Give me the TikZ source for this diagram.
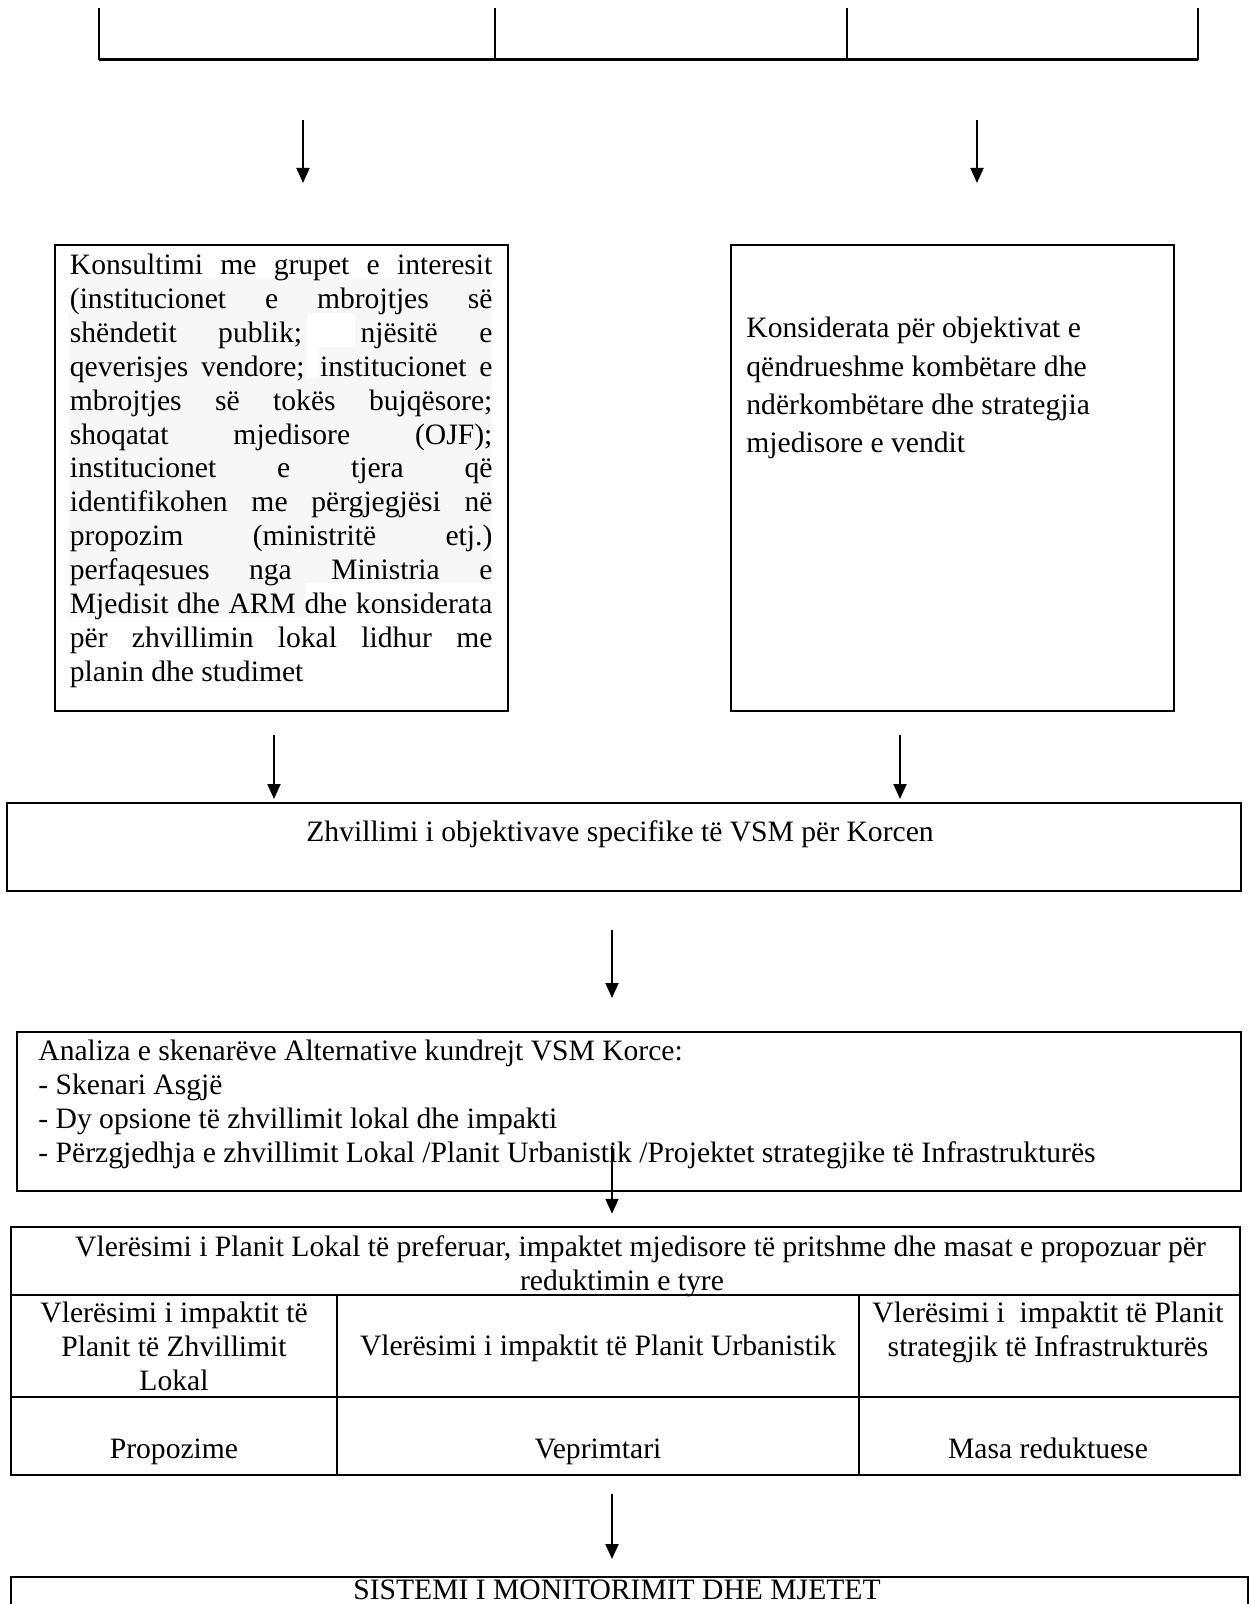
\documentclass[tikz,border=0pt]{standalone}
\usepackage{fontspec}
\setmainfont{Liberation Serif}
\usetikzlibrary{arrows.meta}
\usetikzlibrary{fit}

\tikzset{
  box/.style={draw,line width=1pt,inner sep=0pt},
  cell/.style={draw,line width=1.2pt,inner sep=0pt},
  arr/.style={line width=1pt,-{Triangle[length=7.5pt,width=6.5pt]}},
  txt/.style={inner sep=0pt,font=\fontsize{14.8}{16.95}\selectfont}
}

\begin{document}
\begin{tikzpicture}[x=0.5pt,y=-0.5pt]
\useasboundingbox (0,0) rectangle (1250,1604);
\clip (0,0) rectangle (1250,1604);
\path (303,0) coordinate (xl) (977,0) coordinate (xr) (274,0) coordinate (xa) (900,0) coordinate (xb) (612,0) coordinate (xc);

\draw[line width=0.6pt] (99,8) -- (99,60) (495,8) -- (495,60) (847,8) -- (847,60) (1198,8) -- (1198,60);
\draw[line width=1.5pt] (99,60) coordinate (brk) -- (1198,60);

\node[box,fit={(55,245) (508,711)}] (kons) {};
\node[box,fit={(731,245) (1174,711)}] (obj) {};
\fill[gray!6] (78,278) -- (492,278) -- (492,583) -- (306,583) -- (306,617) -- (69,617) -- (69,313) -- (78,313) -- cycle;
\fill[white] (307,313) rectangle (355,347) (307,347) rectangle (319,378);
\node[txt,anchor=north west,text width=211.25pt,align=justify] (konsTxt) at (69.5,253.6) {\tolerance=10000\hyphenpenalty=10000
Konsultimi me grupet e interesit\linebreak
(institucionet e mbrojtjes së\linebreak
shëndetit publik; njësitë e\linebreak
qeverisjes vendore; institucionet e\linebreak
mbrojtjes së tokës bujqësore;\linebreak
shoqatat mjedisore (OJF);\linebreak
institucionet e tjera që\linebreak
identifikohen me përgjegjësi në\linebreak
propozim (ministritë etj.)\linebreak
perfaqesues nga Ministria e\linebreak
Mjedisit dhe ARM dhe konsiderata\linebreak
për zhvillimin lokal lidhur me\linebreak
planin dhe studimet};
\node[txt,anchor=north west,align=left,font=\fontsize{14.8}{19.15}\selectfont] (objTxt) at (746,317) {Konsiderata për objektivat e\\qëndrueshme kombëtare dhe\\ndërkombëtare dhe strategjia\\mjedisore e vendit};

\node[box,fit={(7,803) (1241,891)}] (zhv) {};
\node[txt,anchor=base] (zhvTxt) at (620,841) {Zhvillimi i objektivave specifike të VSM për Korcen};

\node[box,fit={(17,1032) (1241,1191)}] (ana) {};
\node[txt,anchor=north west,align=left] (anaTxt) at (38,1040) {Analiza e skenarëve Alternative kundrejt VSM Korce:\\- Skenari Asgjë\\- Dy opsione të zhvillimit lokal dhe impakti\\- Përzgjedhja e zhvillimit Lokal /Planit Urbanistik /Projektet strategjike të Infrastrukturës};

\node[cell,fit={(11,1227) (1240,1295)}] (hdr) {};
\node[cell,fit={(11,1295) (337,1397)}] (c11) {};
\node[cell,fit={(337,1295) (859,1397)}] (c12) {};
\node[cell,fit={(859,1295) (1240,1397)}] (c13) {};
\node[cell,fit={(11,1397) (337,1475)}] (c21) {};
\node[cell,fit={(337,1397) (859,1475)}] (c22) {};
\node[cell,fit={(859,1397) (1240,1475)}] (c23) {};
\node[txt,anchor=north,align=center] (hdrTxt) at (622,1235) {\hspace*{1.25em}Vlerësimi i Planit Lokal të preferuar, impaktet mjedisore të pritshme dhe masat e propozuar për\\reduktimin e tyre};
\node[txt,anchor=north,align=center] (c11Txt) at (174,1301.6) {Vlerësimi i impaktit të\\Planit të Zhvillimit\\Lokal};
\node[txt,anchor=base] (c12Txt) at (598,1355) {Vlerësimi i impaktit të Planit Urbanistik};
\node[txt,anchor=north,align=center] (c13Txt) at (1048,1301.6) {Vlerësimi i~ impaktit të Planit\\strategjik të Infrastrukturës};
\node[txt,anchor=base] (c21Txt) at (174,1458) {Propozime};
\node[txt,anchor=base] (c22Txt) at (598,1458) {Veprimtari};
\node[txt,anchor=base] (c23Txt) at (1048,1458) {Masa reduktuese};

\node[box,fit={(11,1577) (1248,1660)}] (sis) {};
\node[txt,anchor=base] (sisTxt) at (617,1599.5) {SISTEMI I MONITORIMIT DHE MJETET};

\draw[arr,shorten <=30pt,shorten >=30.5pt] (brk -| xl) -- (kons.north -| xl);
\draw[arr,shorten <=30pt,shorten >=30.5pt] (brk -| xr) -- (obj.north -| xr);
\draw[arr,shorten <=11.5pt,shorten >=1.5pt] (kons.south -| xa) -- (zhv.north -| xa);
\draw[arr,shorten <=11.5pt,shorten >=1.5pt] (obj.south -| xb) -- (zhv.north -| xb);
\draw[arr,shorten <=19pt,shorten >=16.5pt] (zhv.south -| xc) -- (ana.north -| xc);
\draw[arr,shorten <=-23pt,shorten >=6pt] (ana.south -| xc) -- (hdr.north -| xc);
\draw[arr,shorten <=9pt,shorten >=8.5pt] (c22.south -| xc) -- (sis.north -| xc);
\end{tikzpicture}
\end{document}
